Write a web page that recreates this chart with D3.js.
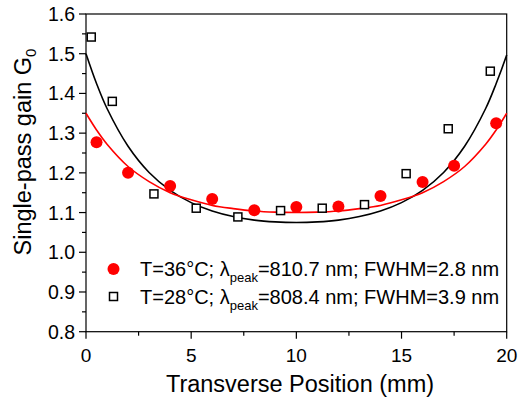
<!doctype html>
<html>
<head>
    <meta charset="utf-8">
    <title>Single-pass gain vs transverse position</title>
    <script src="https://cdn.jsdelivr.net/npm/d3@7"></script>
    <style>
        body { margin: 0; background: #fff; }
        svg { font-family: "Liberation Sans", Arial, sans-serif; }
    </style>
</head>
<body>
<svg id="chart" width="518" height="404"></svg>
<script>
// measured points, T=36°C (red) and T=28°C (black)
var hotX = [0.5, 2, 4, 6, 8, 10, 12, 14, 16, 17.5, 19.5];
var hotY = [1.277, 1.200, 1.167, 1.134, 1.106, 1.114, 1.115, 1.142, 1.177, 1.218, 1.325];
var coldX = [0.25, 1.25, 3.23, 5.24, 7.22, 9.25, 11.23, 13.24, 15.22, 17.22, 19.22];
var coldY = [1.542, 1.380, 1.147, 1.111, 1.089, 1.105, 1.111, 1.120, 1.198, 1.311, 1.456];

// fitted curves
var fitX    = [0, 0.5, 1, 2, 3, 4, 5, 6, 7, 8, 9, 10, 11, 12, 13, 14, 15, 16, 17, 18, 19, 19.5, 20];
var hotFit  = [1.350, 1.308, 1.272, 1.216, 1.178, 1.150, 1.132, 1.118, 1.110, 1.104, 1.101, 1.100,
               1.101, 1.104, 1.110, 1.118, 1.132, 1.150, 1.178, 1.216, 1.272, 1.308, 1.350];
var coldFit = [1.500, 1.425, 1.362, 1.267, 1.201, 1.156, 1.125, 1.104, 1.090, 1.081, 1.0765, 1.075,
               1.0765, 1.081, 1.090, 1.104, 1.125, 1.156, 1.201, 1.267, 1.362, 1.425, 1.497];

var xTicks = [0, 5, 10, 15, 20];
var yTicks = [0.8, 0.9, 1.0, 1.1, 1.2, 1.3, 1.4, 1.5, 1.6];

var svg = d3.select('#chart');
var pLeft = 86, pTop = 14, pRight = 506.7, pBottom = 331.7;

var x = d3.scaleLinear().domain([0, 20]).range([pLeft, pRight]);
var y = d3.scaleLinear().domain([0.8, 1.6]).range([pBottom, pTop]);

// frame
svg.append('rect')
    .attr('x', pLeft).attr('y', pTop)
    .attr('width', pRight - pLeft).attr('height', pBottom - pTop)
    .attr('fill', 'none').attr('stroke', '#000').attr('stroke-width', 1.2);

// x axis
var xMinor = d3.range(0, 20.01, 2.5);
svg.append('g').selectAll('line').data(xMinor).enter().append('line')
    .attr('x1', function(d){ return x(d); }).attr('x2', function(d){ return x(d); })
    .attr('y1', pBottom).attr('y2', function(d){ return d % 5 === 0 ? pBottom + 7 : pBottom + 4; })
    .attr('stroke', '#000').attr('stroke-width', 1.2);
svg.append('g').selectAll('text').data(xTicks).enter().append('text')
    .attr('x', function(d){ return x(d); })
    .attr('y', 362)
    .attr('text-anchor', 'middle')
    .attr('font-size', 19)
    .text(function(d){ return d; });

// y axis
var yMinor = d3.range(0.8, 1.6001, 0.05);
svg.append('g').selectAll('line').data(yMinor).enter().append('line')
    .attr('y1', function(d){ return y(d); }).attr('y2', function(d){ return y(d); })
    .attr('x1', pLeft).attr('x2', function(d, i){ return i % 2 === 0 ? pLeft - 7 : pLeft - 4; })
    .attr('stroke', '#000').attr('stroke-width', 1.2);
svg.append('g').selectAll('text').data(yTicks).enter().append('text')
    .attr('x', 75)
    .attr('y', function(d){ return y(d) + 7; })
    .attr('text-anchor', 'end')
    .attr('font-size', 19.5)
    .text(function(d){ return d.toFixed(1); });

// axis titles
svg.append('text')
    .attr('x', 300).attr('y', 392)
    .attr('text-anchor', 'middle').attr('font-size', 23.5)
    .text('Transverse Position (mm)');

var yt = svg.append('text')
    .attr('transform', 'translate(31,152) rotate(-90)')
    .attr('text-anchor', 'middle').attr('font-size', 23.5);
yt.append('tspan').text('Single-pass gain G');
yt.append('tspan').attr('font-size', 15).attr('dy', 5).text('0');

// fit curves
var line = d3.line()
    .x(function(d){ return x(d[0]); })
    .y(function(d){ return y(d[1]); })
    .curve(d3.curveCatmullRom);

svg.append('path')
    .datum(d3.zip(fitX, coldFit))
    .attr('d', line)
    .attr('fill', 'none').attr('stroke', '#000').attr('stroke-width', 1.6);
svg.append('path')
    .datum(d3.zip(fitX, hotFit))
    .attr('d', line)
    .attr('fill', 'none').attr('stroke', '#ff0000').attr('stroke-width', 1.6);

// points
svg.append('g').selectAll('rect').data(d3.zip(coldX, coldY)).enter().append('rect')
    .attr('x', function(d){ return x(d[0]) - 4; })
    .attr('y', function(d){ return y(d[1]) - 4; })
    .attr('width', 8).attr('height', 8)
    .attr('fill', '#fff').attr('stroke', '#000').attr('stroke-width', 1.5);
svg.append('g').selectAll('circle').data(d3.zip(hotX, hotY)).enter().append('circle')
    .attr('cx', function(d){ return x(d[0]); })
    .attr('cy', function(d){ return y(d[1]); })
    .attr('r', 6)
    .attr('fill', '#ff0000');

// legend
var legend = [
    {temp: 'T=36°C; λ', rest: '=810.7 nm; FWHM=2.8 nm', kind: 'circle'},
    {temp: 'T=28°C; λ', rest: '=808.4 nm; FWHM=3.9 nm', kind: 'square'}
];
legend.forEach(function(l, i){
    var cy = 269 + i * 27.5;
    if (l.kind === 'circle') {
        svg.append('circle').attr('cx', 113.5).attr('cy', cy).attr('r', 6).attr('fill', '#ff0000');
    } else {
        svg.append('rect').attr('x', 109.5).attr('y', cy - 4).attr('width', 8).attr('height', 8)
            .attr('fill', '#fff').attr('stroke', '#000').attr('stroke-width', 1.5);
    }
    var t = svg.append('text').attr('x', 140).attr('y', cy + 7).attr('font-size', 20);
    t.append('tspan').text(l.temp);
    t.append('tspan').attr('font-size', 13).attr('dy', 6).text('peak');
    t.append('tspan').attr('dy', -6).text(l.rest);
});
</script>
</body>
</html>
